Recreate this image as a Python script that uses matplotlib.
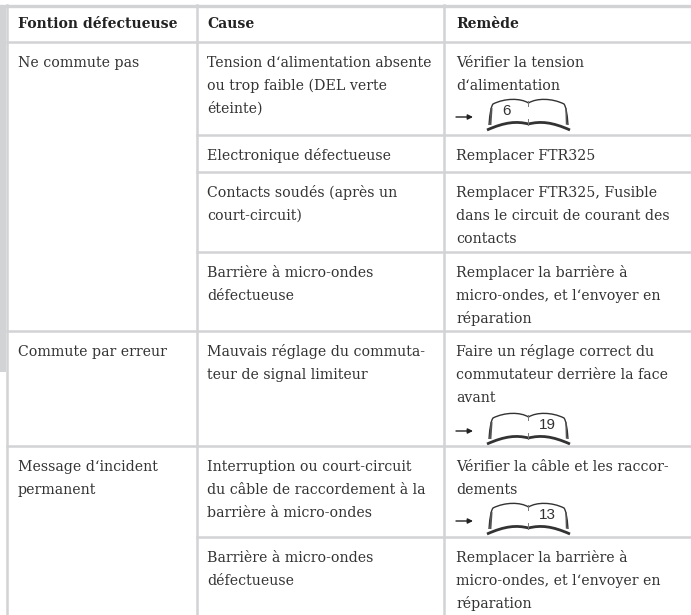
"""Troubleshooting table (French), drawn in pixel coordinates."""

import matplotlib
matplotlib.use("Agg")
import matplotlib.pyplot as plt
from matplotlib.patches import PathPatch
from matplotlib.path import Path

W, H = 691, 615
LINE = "#d2d3d5"
INK = "#333333"
SERIF = "DejaVu Serif"
SIZE = 10.2

headers = ["Fontion défectueuse", "Cause", "Remède"]

faults = [
    ["Ne commute pas"],
    ["Commute par erreur"],
    ["Message d‘incident", "permanent"],
]
causes = [
    ["Tension d‘alimentation absente", "ou trop faible (DEL verte", "éteinte)"],
    ["Electronique défectueuse"],
    ["Contacts soudés (après un", "court-circuit)"],
    ["Barrière à micro-ondes", "défectueuse"],
    ["Mauvais réglage du commuta-", "teur de signal limiteur"],
    ["Interruption ou court-circuit", "du câble de raccordement à la", "barrière à micro-ondes"],
    ["Barrière à micro-ondes", "défectueuse"],
]
remedies = [
    ["Vérifier la tension", "d‘alimentation"],
    ["Remplacer FTR325"],
    ["Remplacer FTR325, Fusible", "dans le circuit de courant des", "contacts"],
    ["Remplacer la barrière à", "micro-ondes, et l‘envoyer en", "réparation"],
    ["Faire un réglage correct du", "commutateur derrière la face", "avant"],
    ["Vérifier la câble et les raccor-", "dements"],
    ["Remplacer la barrière à", "micro-ondes, et l‘envoyer en", "réparation"],
]
page_refs = ["6", "19", "13"]

# layout, pixels
col_x = [7, 197, 444]
text_x = [18, 207, 456]
row_y = [42, 135, 172, 252, 331, 446, 537]
fault_rows = [0, 4, 5]
ref_top = [98, 412, 502]
ref_num_x = [507, 547, 547]
BASE = 25
LEAD = 22.8


def book(ax, x, y, w=83, h=32):
    m = x + w / 2
    # thin top outline and side edges
    top = Path(
        [(x + 2, y + h - 5), (x + 3, y + 14), (x + 4, y + 9), (x + 6, y + 6),
         (x + 18, y), (m - 8, y), (m, y + 5),
         (m + 8, y), (x + w - 18, y), (x + w - 6, y + 6),
         (x + w - 4, y + 9), (x + w - 3, y + 14), (x + w - 2, y + h - 5)],
        [Path.MOVETO, Path.CURVE4, Path.CURVE4, Path.CURVE4,
         Path.CURVE4, Path.CURVE4, Path.CURVE4,
         Path.CURVE4, Path.CURVE4, Path.CURVE4,
         Path.CURVE4, Path.CURVE4, Path.CURVE4],
    )
    ax.add_patch(PathPatch(top, fc="none", ec="#333333", lw=1.0))
    # thick lower edge, heavier at the outer corners
    low = Path(
        [(x, y + h), (x + 18, y + h - 8), (m - 12, y + h - 9), (m, y + h - 6),
         (m + 12, y + h - 9), (x + w - 18, y + h - 8), (x + w, y + h)],
        [Path.MOVETO, Path.CURVE4, Path.CURVE4, Path.CURVE4,
         Path.CURVE4, Path.CURVE4, Path.CURVE4],
    )
    ax.add_patch(PathPatch(low, fc="none", ec="#333333", lw=2.0))
    ax.plot([x + 3.5, x + 4.5], [y + h - 6, y + 11], color="#555555", lw=1.4)
    ax.plot([x + w - 3.5, x + w - 4], [y + h - 6, y + 11], color="#555555", lw=1.0)
    ax.plot([m, m], [y + 3, y + 8], color="#777777", lw=0.7)
    ax.plot([m, m], [y + h - 11, y + h - 5], color="#777777", lw=0.7)


fig = plt.figure(figsize=(W / 100, H / 100), dpi=100)
ax = fig.add_axes([0, 0, 1, 1])
ax.set_xlim(0, W)
ax.set_ylim(H, 0)
ax.axis("off")

# grey page margin and rules
ax.fill_between([0, 6], 5, 372, color=LINE, lw=0)
ax.plot([0, W], [5.5, 5.5], color=LINE, lw=2.4)
for x in col_x:
    ax.plot([x, x], [5, H], color=LINE, lw=1.8)
for i, y in enumerate(row_y):
    x0 = col_x[0] if i in fault_rows else col_x[1]
    ax.plot([x0, W], [y, y], color=LINE, lw=1.8)

for x, label in zip(text_x, headers):
    ax.text(x, 28, label, family=SERIF, fontsize=10.1, fontweight="bold", color="#222222")


def cell(x, top, lines):
    for k, line in enumerate(lines):
        ax.text(x, top + BASE + k * LEAD, line, family=SERIF, fontsize=SIZE, color=INK)


for r, lines in zip(fault_rows, faults):
    cell(text_x[0], row_y[r], lines)
for r, lines in enumerate(causes):
    cell(text_x[1], row_y[r], lines)
for r, lines in enumerate(remedies):
    cell(text_x[2], row_y[r], lines)

for num, y, nx in zip(page_refs, ref_top, ref_num_x):
    book(ax, 487, y)
    ax.annotate("", xy=(473, y + 19), xytext=(456, y + 19),
                arrowprops=dict(arrowstyle="-|>,head_width=0.15,head_length=0.3", color="#222222", lw=1.0,
                                shrinkA=0, shrinkB=0))
    ax.text(nx, y + 13, num, family="Liberation Sans", fontsize=11, color=INK, ha="center", va="center")

fig.savefig("out.png", dpi=100)
